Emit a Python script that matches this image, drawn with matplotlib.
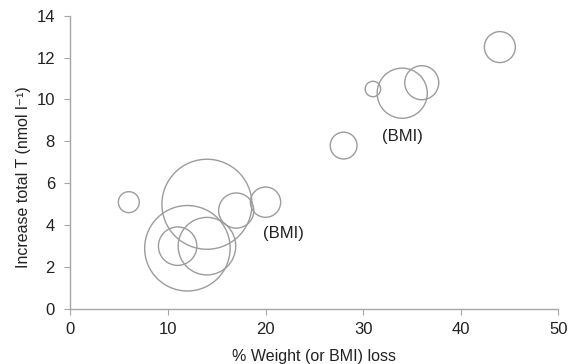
import matplotlib
matplotlib.use("Agg")
import matplotlib.pyplot as plt
import numpy as np

# --- Data ---
weight_loss = [6, 14, 12, 11, 14, 17, 20, 28, 31, 34, 36, 44]
increase_t = [5.1, 5.0, 2.9, 3.0, 3.0, 4.7, 5.1, 7.8, 10.5, 10.3, 10.8, 12.5]
bubble_value = [11, 203, 183, 37, 83, 31, 23, 18, 6, 63, 29, 24]

labels = ["(BMI)", "(BMI)"]
label_x = [21.8, 34.0]
label_y = [3.6, 8.25]

x_ticks = [0, 10, 20, 30, 40, 50]
y_ticks = [0, 2, 4, 6, 8, 10, 12, 14]

plt.rcParams["font.family"] = ["Liberation Sans", "DejaVu Sans"]

fig = plt.figure(figsize=(5.71, 3.64), dpi=100)
ax = fig.add_axes([0.123, 0.151, 0.855, 0.806])

gray = "#a6a6a6"
sizes = np.array(bubble_value) * 20.7
ax.scatter(weight_loss, increase_t, s=sizes, facecolors="none",
           edgecolors="#9c9c9c", linewidths=1.0, zorder=3, clip_on=False)

for t, x, y in zip(labels, label_x, label_y):
    ax.text(x, y, t, ha="center", va="center", fontsize=12, color="#222222")

ax.set_xlim(0, 50)
ax.set_ylim(0, 14)
ax.set_xticks(x_ticks)
ax.set_yticks(y_ticks)
ax.tick_params(axis="both", direction="out", length=4, color=gray,
               labelsize=12, labelcolor="#222222")
ax.tick_params(axis="x", pad=5)
ax.tick_params(axis="y", pad=7)
for s in ["top", "right"]:
    ax.spines[s].set_visible(False)
for s in ["left", "bottom"]:
    ax.spines[s].set_color(gray)
    ax.spines[s].set_linewidth(1.0)

ax.set_xlabel("% Weight (or BMI) loss", fontsize=11.5, color="#222222", labelpad=9)
ax.set_ylabel("Increase total T (nmol l\u207b\u00b9)", fontsize=11.5, color="#222222",
              va="center")
ax.yaxis.set_label_coords(-0.096, 0.449)

fig.savefig("out.png", dpi=100)
